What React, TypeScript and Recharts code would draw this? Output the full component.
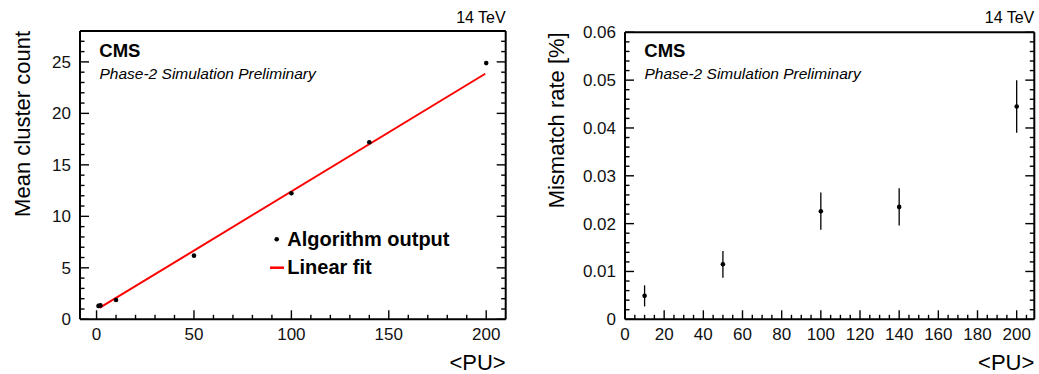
import React from 'react';
import { ComposedChart, Scatter, Line, XAxis, YAxis, ErrorBar } from 'recharts';

// left panel: mean cluster count vs <PU>
const CLUSTER_PU = [1, 2, 10, 50, 100, 140, 200];
const CLUSTER_MEAN = [1.3, 1.35, 1.88, 6.18, 12.24, 17.2, 24.88];
const FIT_PU = [1.5, 199.5];
const FIT_VALUE = [1.1, 23.85];

// right panel: mismatch rate vs <PU>
const MISMATCH_PU = [10, 50, 100, 140, 200];
const MISMATCH_RATE = [0.0049, 0.0115, 0.0226, 0.0235, 0.0445];
const MISMATCH_ERR = [0.0022, 0.0028, 0.0039, 0.0039, 0.0055];

const LEFT_X_LABELS = [0, 50, 100, 150, 200];
const LEFT_Y_LABELS = [0, 5, 10, 15, 20, 25];
const RIGHT_X_LABELS = [0, 20, 40, 60, 80, 100, 120, 140, 160, 180, 200];
const RIGHT_Y_LABELS = [0, 0.01, 0.02, 0.03, 0.04, 0.05, 0.06];

const clusterData = CLUSTER_PU.map((pu, i) => ({ pu, mean: CLUSTER_MEAN[i] }));
const fitData = FIT_PU.map((pu, i) => ({ pu, fit: FIT_VALUE[i] }));
const mismatchData = MISMATCH_PU.map((pu, i) => ({ pu, rate: MISMATCH_RATE[i], err: MISMATCH_ERR[i] }));

const FONT = '"Liberation Sans", Arial, Helvetica, sans-serif';

// minor tick positions (major labels come from the arrays above)
const steps = (from: number, to: number, step: number) => {
  const out: number[] = [];
  for (let k = 0; from + k * step <= to + 1e-9; k++) out.push(+(from + k * step).toFixed(6));
  return out;
};

type Box = { left: number; right: number; top: number; bottom: number };

const LBOX: Box = { left: 80, right: 505.7, top: 31, bottom: 319.3 };
const RBOX: Box = { left: 105, right: 514.3, top: 32.3, bottom: 319.3 };

const isIn = (v: number, list: number[]) => list.some((m) => Math.abs(m - v) < 1e-7);

function makeTick(side: 'bottom' | 'top' | 'left' | 'right', box: Box, labels: number[], fmt?: (v: number) => string) {
  return (props: any) => {
    const c = props.payload.coordinate;
    const v = props.payload.value;
    const major = isIn(v, labels);
    const len = major ? 9 : 4.5;
    let line;
    let text = null;
    if (side === 'bottom') {
      line = <line x1={c} x2={c} y1={box.bottom} y2={box.bottom - len} />;
      if (major && fmt)
        text = <text x={c} y={box.bottom + 21} textAnchor="middle">{fmt(v)}</text>;
    } else if (side === 'top') {
      line = <line x1={c} x2={c} y1={box.top} y2={box.top + len} />;
    } else if (side === 'left') {
      line = <line x1={box.left} x2={box.left + len} y1={c} y2={c} />;
      if (major && fmt)
        text = <text x={box.left - 9} y={c + 6} textAnchor="end">{fmt(v)}</text>;
    } else {
      line = <line x1={box.right} x2={box.right - len} y1={c} y2={c} />;
    }
    return (
      <g stroke="#000" strokeWidth={1.4}>
        {line}
        {text && (
          <g stroke="none" fill="#111" fontSize={17} fontFamily={FONT}>{text}</g>
        )}
      </g>
    );
  };
}

const dot = (p: any) => <circle cx={p.cx} cy={p.cy} r={2.3} fill="#000" />;
const frame = { stroke: '#000', strokeWidth: 2 };

function ClusterPanel() {
  const xd: [number, number] = [-8.5, 210];
  const yd: [number, number] = [0, 28];
  const xt = steps(0, 200, 10);
  const yt = steps(0, 28, 1);
  return (
    <ComposedChart width={520} height={374} data={clusterData}
      margin={{ top: LBOX.top - 1, left: LBOX.left - 1, right: 520 - LBOX.right - 1, bottom: 374 - LBOX.bottom - 1 }}>
      <XAxis dataKey="pu" type="number" domain={xd} ticks={xt} interval={0} height={1} allowDataOverflow
        axisLine={frame} tickLine={false} tick={makeTick('bottom', LBOX, LEFT_X_LABELS, (v) => String(v))} />
      <XAxis xAxisId="top" orientation="top" type="number" domain={xd} ticks={xt} interval={0} height={1} allowDataOverflow
        axisLine={frame} tickLine={false} tick={makeTick('top', LBOX, LEFT_X_LABELS)} />
      <YAxis type="number" domain={yd} ticks={yt} interval={0} width={1} allowDataOverflow
        axisLine={frame} tickLine={false} tick={makeTick('left', LBOX, LEFT_Y_LABELS, (v) => String(v))} />
      <YAxis yAxisId="right" orientation="right" type="number" domain={yd} ticks={yt} interval={0} width={1} allowDataOverflow
        axisLine={frame} tickLine={false} tick={makeTick('right', LBOX, LEFT_Y_LABELS)} />
      <Line data={fitData} dataKey="fit" stroke="#ff0000" strokeWidth={2} dot={false} isAnimationActive={false} />
      <Scatter dataKey="mean" shape={dot} isAnimationActive={false} />
    </ComposedChart>
  );
}

function MismatchPanel() {
  const xd: [number, number] = [0, 209];
  const yd: [number, number] = [0, 0.06];
  const xt = steps(0, 205, 5);
  const yt = steps(0, 0.06, 0.002);
  const fmt = (v: number) => (v === 0 ? '0' : v.toFixed(2));
  return (
    <ComposedChart width={519} height={374} data={mismatchData}
      margin={{ top: RBOX.top - 1, left: RBOX.left - 1, right: 519 - RBOX.right - 1, bottom: 374 - RBOX.bottom - 1 }}>
      <XAxis dataKey="pu" type="number" domain={xd} ticks={xt} interval={0} height={1} allowDataOverflow
        axisLine={frame} tickLine={false} tick={makeTick('bottom', RBOX, RIGHT_X_LABELS, (v) => String(v))} />
      <XAxis xAxisId="top" orientation="top" type="number" domain={xd} ticks={xt} interval={0} height={1} allowDataOverflow
        axisLine={frame} tickLine={false} tick={makeTick('top', RBOX, RIGHT_X_LABELS)} />
      <YAxis type="number" domain={yd} ticks={yt} interval={0} width={1} allowDataOverflow
        axisLine={frame} tickLine={false} tick={makeTick('left', RBOX, RIGHT_Y_LABELS, fmt)} />
      <YAxis yAxisId="right" orientation="right" type="number" domain={yd} ticks={yt} interval={0} width={1} allowDataOverflow
        axisLine={frame} tickLine={false} tick={makeTick('right', RBOX, RIGHT_Y_LABELS)} />
      <Scatter dataKey="rate" shape={dot} isAnimationActive={false}>
        <ErrorBar dataKey="err" direction="y" width={0} stroke="#000" strokeWidth={1.3} />
      </Scatter>
    </ComposedChart>
  );
}

function PanelText({ box, offset, yTitle, titleX }: { box: Box; offset: number; yTitle: string; titleX: number }) {
  const l = box.left + offset;
  const r = box.right + offset;
  return (
    <g fontFamily={FONT} fill="#000">
      <text x={r} y={23} fontSize={16} textAnchor="end">14 TeV</text>
      <text x={l + 19.3} y={56.7} fontSize={18.5} fontWeight="bold">CMS</text>
      <text x={l + 19.5} y={79} fontSize={15.5} fontStyle="italic">Phase-2 Simulation Preliminary</text>
      <text x={titleX} y={box.top} fontSize={22} textAnchor="end" transform={`rotate(-90, ${titleX}, ${box.top})`}>{yTitle}</text>
      <text x={r} y={370} fontSize={22} textAnchor="end">{'<PU>'}</text>
    </g>
  );
}

export default function App() {
  return (
    <div style={{ position: 'absolute', left: 0, top: 0, width: 1039, height: 374, background: '#fff' }}>
      <div style={{ position: 'absolute', left: 0, top: 0 }}>
        <ClusterPanel />
      </div>
      <div style={{ position: 'absolute', left: 520, top: 0 }}>
        <MismatchPanel />
      </div>
      <svg width={1039} height={374} style={{ position: 'absolute', left: 0, top: 0, pointerEvents: 'none' }}>
        <PanelText box={LBOX} offset={0} yTitle="Mean cluster count" titleX={30} />
        <PanelText box={RBOX} offset={520} yTitle="Mismatch rate [%]" titleX={563.8} />
        {/* legend of the left panel */}
        <g fontFamily={FONT} fontWeight="bold" fontSize={20} fill="#000">
          <circle cx={276.7} cy={239.3} r={2.3} fill="#000" />
          <text x={287.3} y={246}>Algorithm output</text>
          <line x1={270} x2={284} y1={267.7} y2={267.7} stroke="#ff0000" strokeWidth={2.5} />
          <text x={287.3} y={274}>Linear fit</text>
        </g>
      </svg>
    </div>
  );
}
